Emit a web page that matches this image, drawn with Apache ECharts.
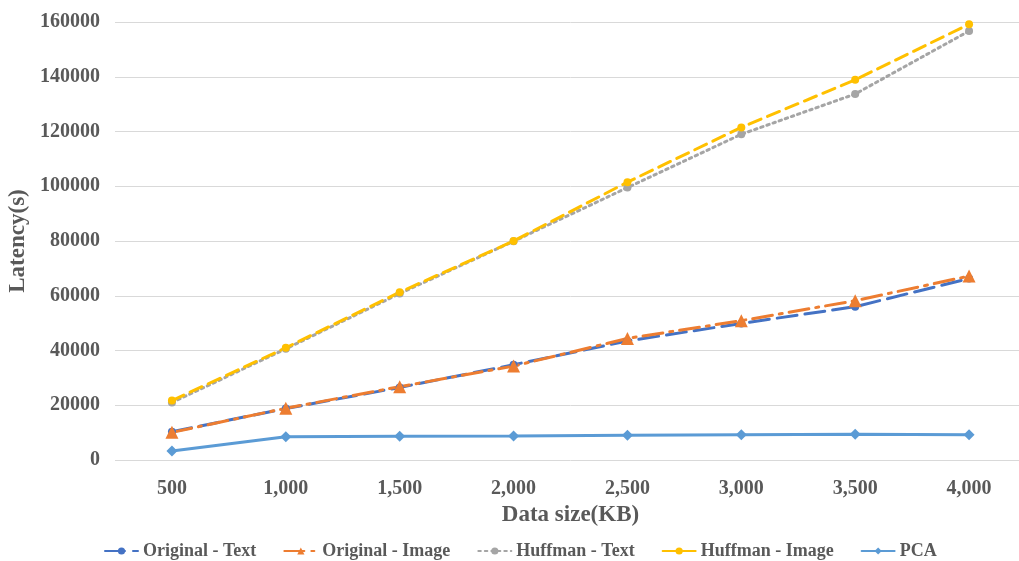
<!DOCTYPE html>
<html>
<head>
<meta charset="utf-8">
<script src="https://cdn.jsdelivr.net/npm/echarts@6/dist/echarts.min.js"></script>
<style>
  html, body { margin: 0; padding: 0; background: #fff; overflow: hidden; }
  #wrap { width: 1019px; height: 561px; overflow: hidden; }
  /* the plot area runs slightly past the right edge of the page */
  #chart { width: 1032px; height: 561px; }
</style>
</head>
<body>
<div id="wrap"><div id="chart"></div></div>
<script>
// Data size (KB) on the x axis
const dataSizes = ['500', '1,000', '1,500', '2,000', '2,500', '3,000', '3,500', '4,000'];

// Latency (s) per method
const originalText  = [10300, 18800, 26500, 34800, 43500, 49900, 56000, 66300];
const originalImage = [10100, 18900, 26800, 34300, 44400, 50900, 58200, 67200];
const huffmanText   = [21000, 40600, 60800, 79900, 99500, 119000, 133700, 156700];
const huffmanImage  = [21700, 41000, 61300, 80000, 101500, 121500, 138900, 159200];
const pca           = [3300, 8500, 8700, 8800, 9000, 9200, 9400, 9200];

const yTicks = { min: 0, max: 160000, interval: 20000 };

const font = '"Liberation Serif", "Times New Roman", serif';
const textGray = '#595959';

function lineSeries(name, data, color, dash, symbol, symbolSize) {
  return {
    name: name,
    type: 'line',
    data: data,
    symbol: symbol,
    symbolSize: symbolSize,
    itemStyle: { color: color },
    lineStyle: { color: color, width: 3, type: dash, cap: 'round' },
    emphasis: { disabled: true }
  };
}

const chart = echarts.init(document.getElementById('chart'));
chart.setOption({
  animation: false,
  textStyle: { fontFamily: font },
  grid: { left: 115, right: 6, top: 22, bottom: 101, containLabel: false, outerBoundsMode: 'none' },
  xAxis: {
    type: 'category',
    data: dataSizes,
    boundaryGap: true,
    name: 'Data size(KB)',
    nameLocation: 'middle',
    nameGap: 44,
    nameTextStyle: { fontFamily: font, fontSize: 23, fontWeight: 'bold', color: textGray },
    axisLine: { show: false },
    axisTick: { show: false },
    axisLabel: { fontFamily: font, fontSize: 20, fontWeight: 'bold', color: textGray, margin: 19 }
  },
  yAxis: {
    type: 'value',
    min: yTicks.min,
    max: yTicks.max,
    interval: yTicks.interval,
    name: 'Latency(s)',
    nameLocation: 'middle',
    nameGap: 80,
    nameTextStyle: { fontFamily: font, fontSize: 23, fontWeight: 'bold', color: textGray },
    axisLine: { show: false },
    axisTick: { show: false },
    splitLine: { lineStyle: { color: '#d9d9d9', width: 1 } },
    axisLabel: {
      fontFamily: font, fontSize: 20, fontWeight: 'bold', color: textGray, margin: 15,
      formatter: v => String(v)
    }
  },
  legend: {
    top: 537,
    left: 99,
    itemWidth: 33,
    itemHeight: 9,
    itemGap: 27,
    textStyle: { fontFamily: font, fontSize: 18, fontWeight: 'bold', color: textGray },
    data: ['Original - Text', 'Original - Image', 'Huffman - Text', 'Huffman - Image', 'PCA']
  },
  series: [
    lineSeries('Original - Text', originalText, '#4472C4', [20, 8], 'circle', 8),
    lineSeries('Original - Image', originalImage, '#ED7D31', [20, 7, 3, 7], 'triangle', 13),
    lineSeries('Huffman - Text', huffmanText, '#A5A5A5', [2.5, 4], 'circle', 8),
    lineSeries('Huffman - Image', huffmanImage, '#FFC000', [13, 7], 'circle', 8),
    lineSeries('PCA', pca, '#5B9BD5', 'solid', 'diamond', 11)
  ]
});
</script>
</body>
</html>
